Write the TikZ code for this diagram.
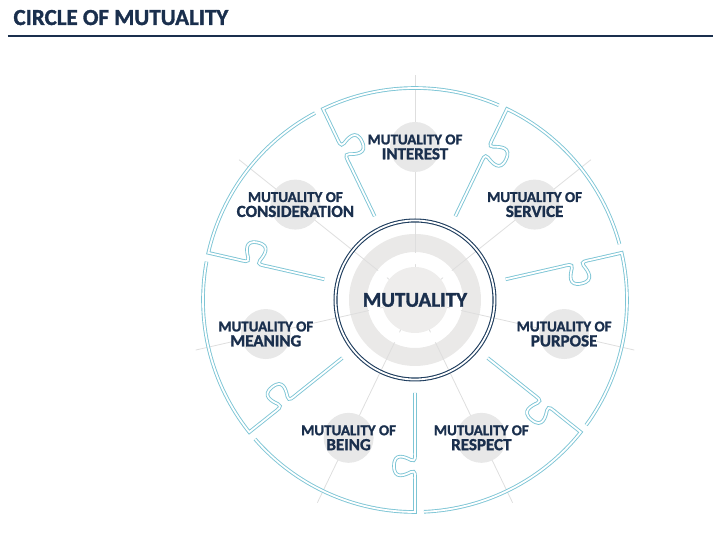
\documentclass[tikz,border=0pt]{standalone}
\usepackage{fontspec}
\setmainfont{Carlito}[BoldFeatures={FakeBold=1.4}]
\definecolor{navytext}{HTML}{1A2F4D}
\definecolor{navyring}{HTML}{1F3D5E}
\definecolor{puzzleblue}{HTML}{7DC5D5}
\definecolor{spokegray}{HTML}{DEDEDE}
\definecolor{badgegray}{HTML}{E8E8E8}
\definecolor{ringgray}{HTML}{EAE9E8}
\definecolor{diskgray}{HTML}{EEEDEC}
\tikzset{
  piece/.style={draw=puzzleblue,line width=0.9pt,double=white,double distance=1.8pt,line join=miter},
  spoke/.style={draw=spokegray,line width=0.8pt},
  badge/.style={circle,fill=badgegray,minimum size=50pt,inner sep=0pt},
  caption/.style={text=navytext,font=\bfseries\fontsize{15}{15}\selectfont,align=center},
}

\begin{document}
\begin{tikzpicture}[x=1pt,y=1pt]
  \useasboundingbox (-415,-240) rectangle (298,300);
  \node[anchor=base west,text=navytext,font=\bfseries\fontsize{23}{23}\selectfont] (title) at (-405,275) {CIRCLE OF MUTUALITY};
  \draw[navytext,line width=1.4pt] (-407,264) -- (298,264);
  % hub and spokes
  \fill[ringgray,even odd rule] (0,0) circle (66) (0,0) circle (48);
  \foreach \ang in {90,38.571,-12.857,-64.286,-115.714,-167.143,141.429}
    \draw[spoke] (\ang:30) -- (\ang:225);
  \fill[white,even odd rule] (0,0) circle (47) (0,0) circle (36);
  \fill[diskgray] (0,0) circle (33);
  % puzzle pieces
  \foreach \ang in {90,38.571,-12.857,-64.286,-115.714,-167.143,141.429}{
    \begin{scope}[rotate={\ang+25.714}]
      \draw[piece] (93,0) -- (150,0)
        .. controls (157,0) and (162,1) .. (160,-4)
        .. controls (157,-10) and (152,-21) .. (166,-21)
        .. controls (180,-21) and (175,-10) .. (172,-4)
        .. controls (170,1) and (175,0) .. (182,0)
        -- (212,0) arc[start angle=0,end angle=-49,radius=212];
    \end{scope}}
  \draw[navyring,line width=1.1pt,double=white,double distance=1.8pt] (0,0) circle (79.5);
  \node[text=navytext,font=\bfseries\fontsize{21}{21}\selectfont] (core) at (0,0) {MUTUALITY};
  % labels
  \foreach \ang/\name/\word in {90/interest/INTEREST,38.571/service/SERVICE,-12.857/purpose/PURPOSE,
      -64.286/respect/RESPECT,-115.714/being/BEING,-167.143/meaning/MEANING,141.429/consideration/CONSIDERATION}{
    \node[badge] (\name) at (\ang:153) {};
    \node[caption] (\name-text) at (\name) {MUTUALITY OF\\{\fontsize{17}{15}\selectfont\word}};
  }
\end{tikzpicture}
\end{document}
